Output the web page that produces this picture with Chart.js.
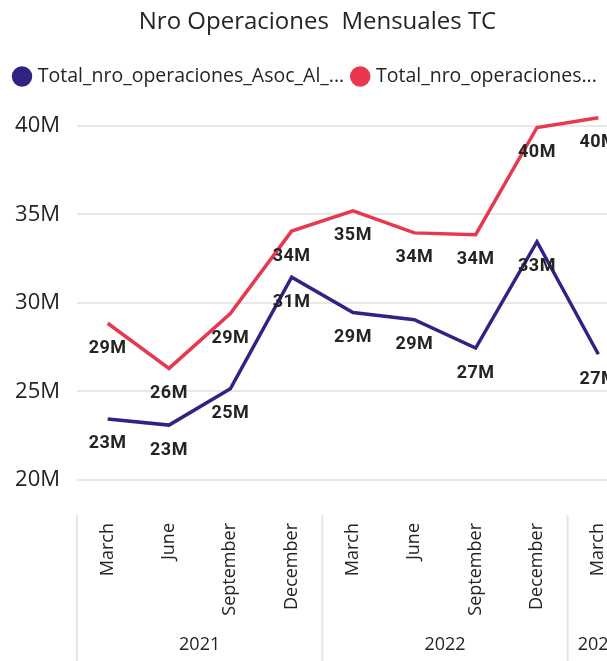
<!DOCTYPE html>
<html>
<head>
<meta charset="utf-8">
<script src="https://cdn.jsdelivr.net/npm/chart.js@4"></script>
<style>
  html, body { margin: 0; padding: 0; overflow: hidden; background: #fff; }
</style>
</head>
<body>
<canvas id="chart" width="640" height="661"></canvas>
<script>
// quarter months and their year
const months = ['March', 'June', 'September', 'December', 'March', 'June', 'September', 'December', 'March'];
const years = ['2021', '2021', '2021', '2021', '2022', '2022', '2022', '2022', '2023'];

// values in millions
const asocValues = [23.45, 23.1, 25.15, 31.45, 29.45, 29.05, 27.45, 33.45, 27.1];
const totalValues = [28.85, 26.3, 29.4, 34.05, 35.2, 33.95, 33.85, 39.9, 40.45];

const seriesNames = ['Total_nro_operaciones_Asoc_Al_...', 'Total_nro_operaciones...'];
const yTicks = [20, 25, 30, 35, 40];

const textColor = '#252423';
const font = "'Open Sans', 'Noto Sans', sans-serif";

// data labels under each point
const pointLabels = {
    id: 'pointLabels',
    afterDatasetsDraw(chart) {
        let ctx = chart.ctx;
        ctx.save();
        ctx.font = "bold 18px Roboto, sans-serif";
        ctx.letterSpacing = '0.5px';
        ctx.fillStyle = textColor;
        ctx.textAlign = 'center';
        ctx.textBaseline = 'middle';
        chart.data.datasets.forEach((ds, i) => {
            let meta = chart.getDatasetMeta(i);
            meta.data.forEach((pt, j) => {
                ctx.fillText(Math.round(ds.data[j]) + 'M', pt.x, pt.y + 25);
            });
        });
        ctx.restore();
    }
};

// year groups under the month labels
const yearGroups = {
    id: 'yearGroups',
    afterDraw(chart) {
        let ctx = chart.ctx;
        let xs = chart.scales.x;
        let half = (xs.getPixelForTick(1) - xs.getPixelForTick(0)) / 2;
        let top = chart.chartArea.bottom + 35;
        ctx.save();
        ctx.font = "18px " + font;
        ctx.fillStyle = textColor;
        ctx.textAlign = 'center';
        ctx.textBaseline = 'middle';
        let start = 0;
        for (let i = 1; i <= years.length; i++) {
            if (i == years.length || years[i] != years[start]) {
                let left = xs.getPixelForTick(start) - half;
                let right = xs.getPixelForTick(i - 1) + half;
                ctx.strokeStyle = '#e6e6e6';
                ctx.lineWidth = 2;
                ctx.beginPath();
                ctx.moveTo(left, top);
                ctx.lineTo(left, chart.height);
                ctx.stroke();
                ctx.fillText(years[start], (left + right) / 2, 645);
                start = i;
            }
        }
        ctx.restore();
    }
};

let ctx = document.getElementById('chart').getContext('2d');
new Chart(ctx, {
    type: 'line',
    data: {
        labels: months,
        datasets: [{
            label: seriesNames[0],
            data: asocValues,
            borderColor: '#2f2484',
            backgroundColor: '#2f2484',
            borderWidth: 3.5,
            pointRadius: 0,
            tension: 0
        }, {
            label: seriesNames[1],
            data: totalValues,
            borderColor: '#e8384f',
            backgroundColor: '#e8384f',
            borderWidth: 3.5,
            pointRadius: 0,
            tension: 0
        }]
    },
    options: {
        responsive: false,
        animation: false,
        devicePixelRatio: 1,
        layout: { padding: { left: 6, right: 11, top: 0, bottom: 0 } },
        plugins: {
            title: {
                display: true,
                text: 'Nro Operaciones  Mensuales TC',
                color: textColor,
                font: { family: font, size: 24, weight: 'normal' },
                padding: { top: 8, bottom: 20 }
            },
            legend: {
                display: true,
                align: 'start',
                labels: {
                    usePointStyle: true,
                    pointStyle: 'circle',
                    boxWidth: 12,
                    boxHeight: 12,
                    color: textColor,
                    font: { family: font, size: 19.5 },
                    padding: 10
                }
            },
            tooltip: { enabled: false }
        },
        scales: {
            x: {
                offset: true,
                grid: { display: false, drawTicks: false },
                border: { display: false },
                ticks: {
                    autoSkip: false,
                    minRotation: 90,
                    maxRotation: 90,
                    padding: 43,
                    color: textColor,
                    font: { family: font, size: 18 }
                },
                afterFit(scale) {
                    scale.height = 181;
                    scale.paddingLeft = 0;
                    scale.paddingRight = 0;
                }
            },
            y: {
                min: 20,
                max: 41.66,
                afterBuildTicks(scale) { scale.ticks = yTicks.map(v => ({ value: v })); },
                grid: { color: '#e8e8e8', lineWidth: 2, drawTicks: false },
                border: { display: false },
                ticks: {
                    padding: 17,
                    color: textColor,
                    font: { family: font, size: 22 },
                    callback: v => v + 'M'
                },
                afterFit(scale) { scale.width = 71; }
            }
        }
    },
    plugins: [pointLabels, yearGroups]
});
</script>
</body>
</html>
